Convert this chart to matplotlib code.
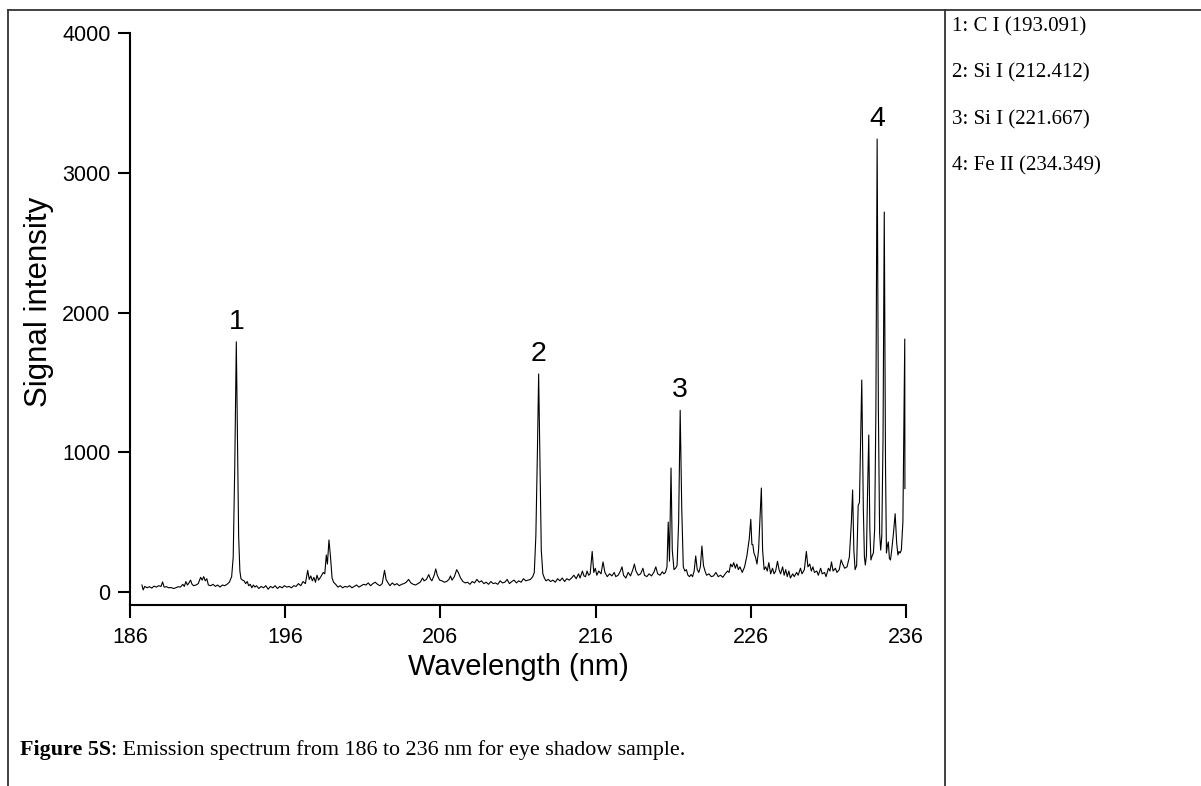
import numpy as np
import matplotlib
matplotlib.use("Agg")
import matplotlib.pyplot as plt
from matplotlib.lines import Line2D

# traced spectrum vertices: wavelength (nm), signal intensity
wavelength = [
    186.77, 186.85, 186.95, 187.10, 187.25, 187.40, 187.55, 187.70, 187.85, 188.00,
    188.10, 188.20, 188.35, 188.50, 188.65, 188.80, 188.95, 189.10, 189.25, 189.40,
    189.50, 189.60, 189.70, 189.80, 189.90, 190.00, 190.10, 190.25, 190.40, 190.55,
    190.65, 190.75, 190.85, 190.95, 191.05, 191.20, 191.35, 191.50, 191.65, 191.80,
    191.95, 192.10, 192.25, 192.40, 192.55, 192.65, 192.75, 192.85, 192.95, 193.00,
    193.08, 193.15, 193.25, 193.35, 193.45, 193.55, 193.65, 193.75, 193.85, 193.95,
    194.05, 194.15, 194.30, 194.45, 194.60, 194.75, 194.90, 195.05, 195.20, 195.35,
    195.50, 195.65, 195.80, 195.95, 196.10, 196.25, 196.40, 196.55, 196.70, 196.85,
    197.00, 197.15, 197.30, 197.45, 197.55, 197.65, 197.75, 197.85, 197.95, 198.05,
    198.15, 198.30, 198.45, 198.55, 198.65, 198.72, 198.82, 198.92, 199.02, 199.12,
    199.25, 199.40, 199.55, 199.70, 199.85, 200.00, 200.15, 200.30, 200.45, 200.60,
    200.75, 200.90, 201.05, 201.20, 201.35, 201.50, 201.65, 201.80, 201.95, 202.10,
    202.25, 202.40, 202.50, 202.60, 202.75, 202.90, 203.05, 203.20, 203.35, 203.50,
    203.65, 203.80, 203.95, 204.10, 204.25, 204.40, 204.55, 204.70, 204.85, 204.95,
    205.10, 205.25, 205.35, 205.45, 205.60, 205.70, 205.80, 205.95, 206.10, 206.25,
    206.40, 206.55, 206.65, 206.75, 206.90, 207.05, 207.15, 207.30, 207.45, 207.60,
    207.75, 207.90, 208.05, 208.20, 208.35, 208.50, 208.65, 208.80, 208.95, 209.10,
    209.25, 209.40, 209.55, 209.70, 209.85, 210.00, 210.15, 210.30, 210.45, 210.60,
    210.75, 210.90, 211.05, 211.20, 211.35, 211.50, 211.65, 211.80, 211.95, 212.05,
    212.15, 212.25, 212.33, 212.42, 212.50, 212.60, 212.70, 212.80, 212.95, 213.10,
    213.25, 213.40, 213.55, 213.70, 213.85, 214.00, 214.15, 214.30, 214.45, 214.60,
    214.75, 214.90, 215.00, 215.15, 215.25, 215.35, 215.45, 215.55, 215.65, 215.78,
    215.88, 215.98, 216.08, 216.20, 216.35, 216.48, 216.60, 216.75, 216.90, 217.05,
    217.20, 217.30, 217.45, 217.60, 217.70, 217.80, 217.95, 218.10, 218.25, 218.40,
    218.50, 218.60, 218.75, 218.90, 219.05, 219.15, 219.30, 219.45, 219.60, 219.75,
    219.88, 220.00, 220.15, 220.30, 220.40, 220.50, 220.60, 220.68, 220.76, 220.86,
    220.94, 221.05, 221.15, 221.25, 221.35, 221.45, 221.55, 221.65, 221.75, 221.85,
    221.95, 222.05, 222.15, 222.25, 222.35, 222.45, 222.55, 222.65, 222.75, 222.85,
    222.95, 223.05, 223.15, 223.30, 223.45, 223.60, 223.75, 223.90, 224.05, 224.20,
    224.35, 224.50, 224.60, 224.70, 224.80, 224.90, 225.00, 225.10, 225.20, 225.30,
    225.45, 225.60, 225.75, 225.90, 226.00, 226.07, 226.13, 226.20, 226.30, 226.40,
    226.50, 226.60, 226.68, 226.76, 226.86, 226.96, 227.06, 227.16, 227.28, 227.40,
    227.50, 227.60, 227.72, 227.82, 227.92, 228.05, 228.15, 228.25, 228.35, 228.45,
    228.55, 228.70, 228.80, 228.95, 229.05, 229.20, 229.30, 229.45, 229.58, 229.68,
    229.80, 229.90, 230.00, 230.10, 230.25, 230.35, 230.50, 230.60, 230.75, 230.85,
    231.00, 231.10, 231.20, 231.30, 231.45, 231.55, 231.70, 231.82, 231.92, 232.05,
    232.20, 232.35, 232.48, 232.56, 232.64, 232.72, 232.82, 232.92, 233.00, 233.08,
    233.15, 233.25, 233.32, 233.38, 233.45, 233.52, 233.60, 233.67, 233.74, 233.82,
    233.90, 233.98, 234.06, 234.14, 234.22, 234.30, 234.37, 234.44, 234.52, 234.60,
    234.68, 234.74, 234.80, 234.86, 234.93, 235.00, 235.08, 235.20, 235.30, 235.40,
    235.48, 235.55, 235.62, 235.70, 235.80, 235.92, 235.93,
]
intensity = [
    50, 15, 40, 30, 38, 28, 42, 35, 45, 40,
    72, 35, 38, 30, 32, 25, 30, 38, 35, 55,
    40, 75, 50, 65, 85, 55, 45, 50, 60, 105,
    85, 110, 80, 95, 50, 45, 55, 40, 50, 35,
    50, 45, 55, 70, 110, 250, 900, 1790, 900, 400,
    150, 95, 85, 80, 60, 75, 45, 55, 30, 50,
    35, 45, 25, 40, 30, 45, 20, 40, 30, 45,
    25, 40, 30, 45, 35, 40, 30, 45, 40, 60,
    45, 75, 60, 155, 90, 115, 80, 105, 70, 120,
    85, 110, 140, 130, 265, 200, 372, 250, 100, 70,
    55, 35, 45, 30, 40, 35, 45, 30, 40, 50,
    35, 45, 55, 50, 65, 45, 60, 70, 55, 45,
    60, 155, 90, 70, 45, 65, 50, 60, 45, 55,
    60, 70, 90, 65, 55, 50, 60, 70, 100, 80,
    90, 125, 95, 80, 120, 165, 120, 85, 80, 70,
    75, 90, 115, 85, 110, 160, 140, 100, 75, 65,
    70, 55, 75, 65, 90, 70, 80, 60, 70, 55,
    75, 60, 65, 55, 80, 65, 70, 90, 60, 75,
    85, 65, 80, 70, 95, 80, 85, 90, 110, 140,
    400, 1000, 1560, 900, 300, 130, 100, 80, 90, 75,
    85, 70, 95, 80, 100, 75, 95, 85, 100, 120,
    95, 130, 100, 150, 115, 110, 150, 120, 130, 290,
    140, 170, 120, 150, 130, 215, 140, 110, 130, 115,
    140, 110, 120, 150, 180, 120, 100, 140, 115, 160,
    200, 150, 120, 130, 170, 120, 110, 130, 115, 140,
    180, 130, 120, 145, 130, 140, 180, 500, 220, 887,
    300, 160, 170, 190, 500, 1300, 600, 180, 150, 160,
    120, 110, 125, 110, 150, 258, 160, 140, 180, 329,
    190, 150, 120, 130, 110, 115, 140, 110, 120, 105,
    130, 150, 140, 200, 180, 210, 170, 200, 160, 180,
    140, 180, 260, 380, 520, 340, 340, 280, 250, 200,
    300, 550, 744, 300, 160, 180, 150, 210, 130, 170,
    130, 150, 220, 160, 130, 180, 120, 160, 110, 150,
    100, 130, 110, 140, 120, 170, 130, 160, 290, 180,
    200, 150, 180, 140, 150, 120, 170, 130, 140, 110,
    170, 150, 215, 150, 170, 140, 160, 230, 200, 170,
    180, 250, 500, 730, 300, 160, 190, 620, 640, 1100,
    1517, 600, 250, 193, 260, 700, 1123, 450, 229, 260,
    279, 450, 1300, 3241, 1300, 420, 300, 400, 1100, 2719,
    900, 279, 330, 358, 240, 229, 300, 430, 560, 350,
    265, 290, 279, 300, 500, 1810, 740,
]

# labelled lines: tag, wavelength and height of the labelled peak
peak_tags = ["1", "2", "3", "4"]
peak_wl = [192.85, 212.33, 221.45, 234.14]
peak_height = [1790, 1560, 1300, 3241]

legend_lines = ["1: C I (193.091)", "2: Si I (212.412)",
                "3: Si I (221.667)", "4: Fe II (234.349)"]

x_ticks = [186, 196, 206, 216, 226, 236]
y_ticks = [0, 1000, 2000, 3000, 4000]

fig = plt.figure(figsize=(12.01, 7.86), dpi=100)
W, H = 1201.0, 786.0

# table-like frame around the figure cell
frame_kw = dict(color="#333333", lw=1.3, transform=fig.transFigure)
fig.add_artist(Line2D([8 / W, 1.0], [1 - 10 / H, 1 - 10 / H], **frame_kw))
fig.add_artist(Line2D([8 / W, 8 / W], [0, 1 - 10 / H], **frame_kw))
fig.add_artist(Line2D([945 / W, 945 / W], [0, 1 - 10 / H], **frame_kw))

ax = fig.add_axes([130 / W, 1 - 605 / H, 776 / W, 572 / H])
ax.plot(wavelength, intensity, color="black", lw=0.8)
ax.set_xlim(186, 236)
ax.set_ylim(-93, 4000)
ax.set_xticks(x_ticks)
ax.set_yticks(y_ticks)

for side in ["top", "right"]:
    ax.spines[side].set_visible(False)
for side in ["left", "bottom"]:
    ax.spines[side].set_linewidth(1.5)
ax.tick_params(direction="out", length=9, width=1.5, labelsize=15.5, pad=5)
ax.tick_params(axis="x", pad=7)
for lab in ax.get_xticklabels() + ax.get_yticklabels():
    lab.set_fontfamily("Liberation Sans")

ax.set_xlabel("Wavelength (nm)", fontsize=21, family="Liberation Sans")
ax.set_ylabel("Signal intensity", fontsize=22.5, family="Liberation Sans")
ax.xaxis.set_label_coords(0.5, -0.084)
ax.yaxis.set_label_coords(-0.098, 0.53)

for tag, x, y in zip(peak_tags, peak_wl, peak_height):
    ax.annotate(tag, (x, y), xytext=(0, 5), textcoords="offset points",
                ha="center", va="bottom", fontsize=20.5, family="Liberation Sans")

for i, line in enumerate(legend_lines):
    fig.text(952 / W, 1 - (27 + i * 46.3) / H, line, fontsize=15,
             family="Liberation Serif", va="center", ha="left")

# caption: bold figure tag followed by plain text
cap = fig.text(20 / W, 1 - 750 / H, "Figure 5S", fontsize=15.8, weight="bold",
               family="Liberation Serif", va="center", ha="left")
renderer = fig.canvas.get_renderer()
bb = cap.get_window_extent(renderer)
fig.text(bb.x1 / W, 1 - 750 / H,
         ": Emission spectrum from 186 to 236 nm for eye shadow sample.",
         fontsize=15.8, family="Liberation Serif", va="center", ha="left")

fig.savefig("out.png", dpi=100)
